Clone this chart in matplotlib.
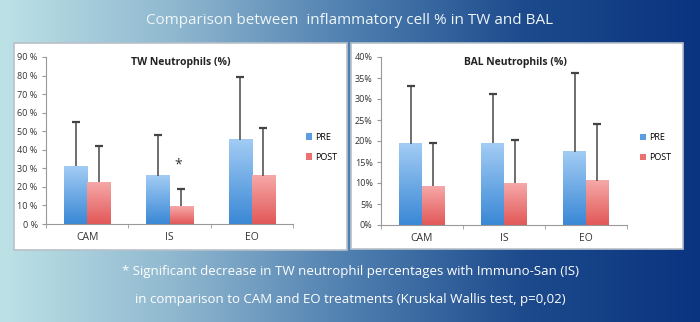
import matplotlib.pyplot as plt
import numpy as np
from matplotlib.colors import LinearSegmentedColormap
from matplotlib.patches import Rectangle

plt.rcParams['font.family'] = ['Open Sans', 'DejaVu Sans']

groups = ["CAM", "IS", "EO"]

tw_pre = [31, 26, 45.5]
tw_pre_top = [55, 48, 79]
tw_post = [22.5, 9.5, 26]
tw_post_top = [42, 19, 51.5]

bal_pre = [19.3, 19.5, 17.5]
bal_pre_top = [33, 31.2, 36.2]
bal_post = [9.2, 9.9, 10.5]
bal_post_top = [19.5, 20.2, 24]

tw_ticks = [0, 10, 20, 30, 40, 50, 60, 70, 80, 90]
bal_ticks = [0, 5, 10, 15, 20, 25, 30, 35, 40]

header = "Comparison between  inflammatory cell % in TW and BAL"
note1 = "* Significant decrease in TW neutrophil percentages with Immuno-San (IS)"
note2 = "in comparison to CAM and EO treatments (Kruskal Wallis test, p=0,02)"

fig = plt.figure(figsize=(7, 3.22), dpi=100)

# background gradient
bg = fig.add_axes([0, 0, 1, 1])
bg_cmap = LinearSegmentedColormap.from_list(
    "bg", ["#bde2e6", "#8fb7cf", "#4f7fb0", "#1d4a8c", "#0a3480"])
gx = np.linspace(0, 1, 256).reshape(1, -1)
bg.imshow(gx, extent=[0, 1, 0, 1], aspect="auto", cmap=bg_cmap)
bg.set_xlim(0, 1)
bg.set_ylim(0, 1)
bg.axis("off")

W, H = 700, 322


def panel(x0, y0, x1, y1):
    bg.add_patch(Rectangle((x0 / W, 1 - y1 / H), (x1 - x0) / W, (y1 - y0) / H,
                           facecolor="white", edgecolor="#b8c0c8", lw=1.2))


panel(14, 43, 347, 250)
panel(351, 43, 683, 249)

bg.text(0.5, 1 - 20 / H, header, color="#eef6f8", fontsize=11,
        ha="center", va="center")
bg.text(0.5, 1 - 271 / H, note1, color="white", fontsize=9.5,
        ha="center", va="center")
bg.text(0.5, 1 - 299 / H, note2, color="white", fontsize=9.5,
        ha="center", va="center")

blue_cmap = LinearSegmentedColormap.from_list("b", ["#3a88d6", "#a2ccf4"])
red_cmap = LinearSegmentedColormap.from_list("r", ["#e25858", "#f6a8a8"])
grad = np.linspace(1, 0, 100).reshape(-1, 1)


def draw(ax, pre, pre_top, post, post_top, ticks, fmt, title, ymax):
    x = np.arange(len(groups))
    w = 0.28
    for xs, vals, tops, cmap, lab, col in [
            (x - w / 2, pre, pre_top, blue_cmap, "PRE", "#5a9de0"),
            (x + w / 2, post, post_top, red_cmap, "POST", "#ec7070")]:
        bars = ax.bar(xs, vals, w, color="none", edgecolor="none")
        for b in bars:
            ax.imshow(grad, extent=[b.get_x(), b.get_x() + w, 0, b.get_height()],
                      aspect="auto", cmap=cmap, vmin=0, vmax=1, zorder=2)
        ax.vlines(xs, vals, tops, color="#555555", lw=1.2, zorder=3)
        ax.plot(xs, tops, ls="none", marker="_", ms=6, mew=1.6,
                color="#444444", zorder=3)
        ax.bar([0], [0], 0, color=col, label=lab)
    ax.set_xlim(-0.5, 2.5)
    ax.set_ylim(0, ymax)
    ax.set_xticks(x)
    ax.set_xticklabels(groups, fontsize=7.5, color="#333333")
    ax.tick_params(axis="x", length=0, pad=6)
    ax.set_xticks([-0.5, 0.5, 1.5, 2.5], minor=True)
    ax.tick_params(axis="x", which="minor", length=3, color="#999999")
    ax.set_yticks(ticks)
    ax.set_yticklabels([fmt.format(t) for t in ticks], fontsize=6.5,
                       color="#333333")
    ax.tick_params(axis="y", length=3, color="#999999", pad=3)
    for s in ["top", "right"]:
        ax.spines[s].set_visible(False)
    for s in ["left", "bottom"]:
        ax.spines[s].set_color("#999999")
    ax.text(0.545, 0.97, title, transform=ax.transAxes, ha="center",
            va="center", fontsize=7.5, fontweight="bold", color="#222222")
    ax.legend(loc="center left", bbox_to_anchor=(1.02, 0.46), frameon=False,
              fontsize=6.5, handlelength=0.7, handleheight=0.7,
              handletextpad=0.3, labelspacing=1.2)
    ax.set_facecolor("none")


ax1 = fig.add_axes([46 / W, 1 - 224 / H, 247 / W, 167 / H])
draw(ax1, tw_pre, tw_pre_top, tw_post, tw_post_top, tw_ticks, "{} %",
     "TW Neutrophils (%)", 90)
ax1.text(1.11, 32, "*", ha="center", va="center", fontsize=10,
         color="#333333")

ax2 = fig.add_axes([381 / W, 1 - 225 / H, 246 / W, 168 / H])
draw(ax2, bal_pre, bal_pre_top, bal_post, bal_post_top, bal_ticks, "{}%",
     "BAL Neutrophils (%)", 40)

fig.savefig("out.png", dpi=100)
